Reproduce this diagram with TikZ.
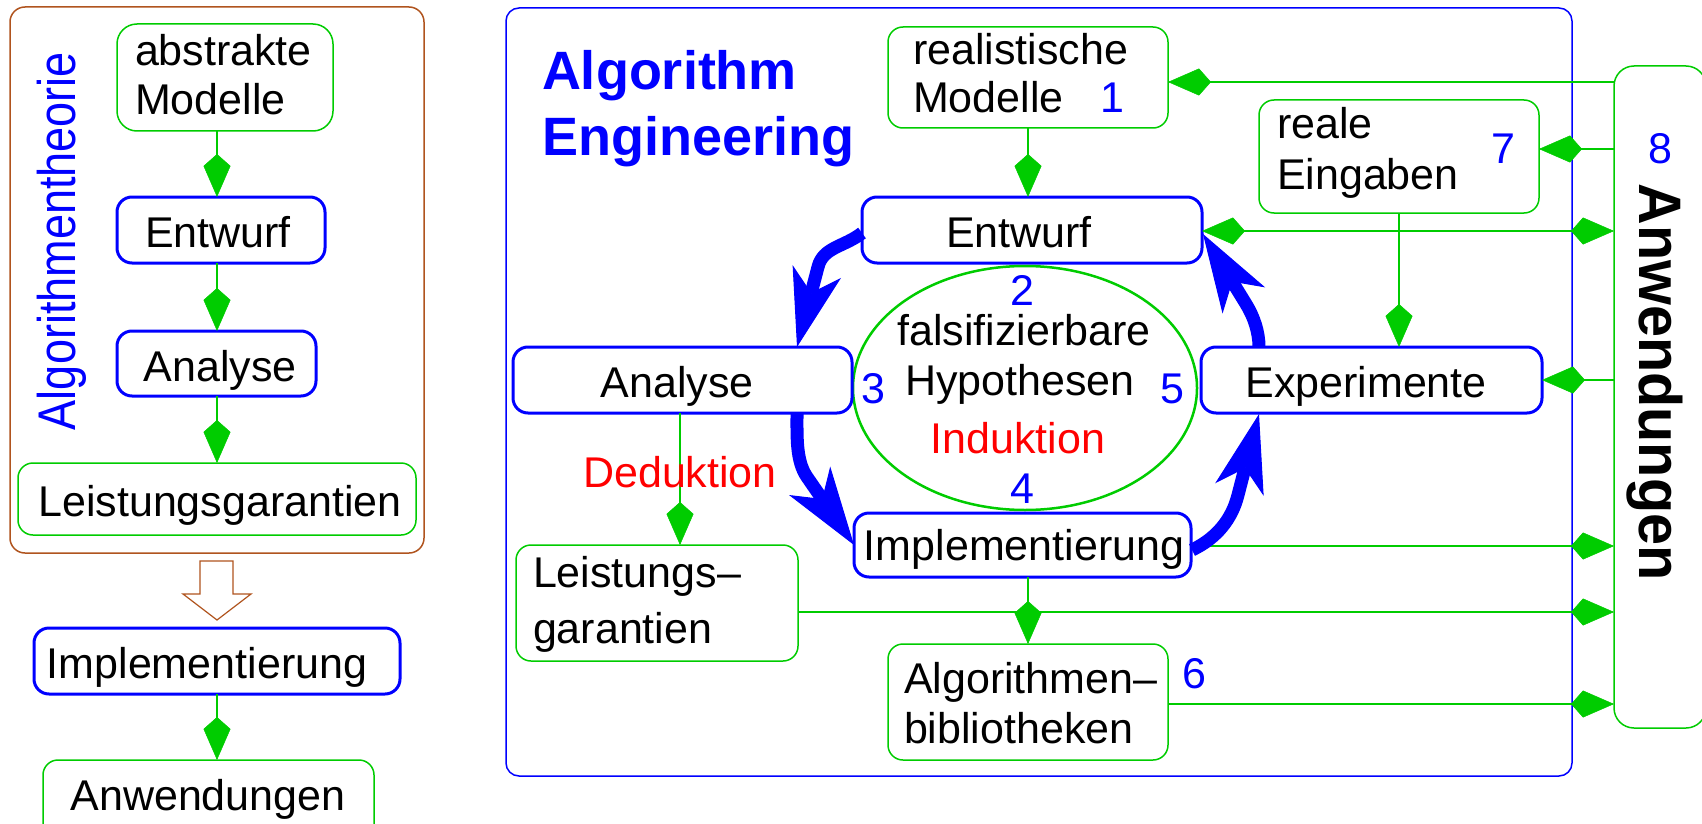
\documentclass[tikz,border=0pt]{standalone}
\usepackage{fontspec}
\setmainfont{Liberation Sans}
\usepackage{graphicx}
\usetikzlibrary{arrows.meta,shapes.geometric,calc}
\definecolor{grn}{RGB}{0,204,0}
\definecolor{bl}{RGB}{0,0,255}
\definecolor{rd}{RGB}{255,0,0}
\definecolor{brn}{RGB}{176,84,30}
\newcommand\txtfont{\fontsize{43pt}{50pt}\selectfont}

\begin{document}
\begin{tikzpicture}[x=1pt,y=-1pt,
  every node/.style={inner sep=0pt, outer sep=0pt},
  box/.style={rounded corners=15pt, anchor=north west},
  gbox/.style={box, draw=grn, line width=1.5pt},
  bbox/.style={box, draw=bl, line width=3pt},
  lbl/.style={font=\txtfont, anchor=base},
  lblw/.style={font=\txtfont, anchor=base west},
  num/.style={font=\txtfont, text=bl, anchor=base},
  diam/.tip={Kite[length=43pt,width=27pt,inset=12pt,line width=0.5pt]},
  link/.style={draw=grn, line width=2.8pt, -diam},
  link2/.style={draw=grn, line width=2.8pt, diam-diam},
  cyclearrow/.style={draw=bl, line width=13pt,
    -{Stealth[length=78pt,width=50pt,inset=22pt,line width=1pt]}},
]
\useasboundingbox (0,0) rectangle (1702,824);
\clip (0,0) rectangle (1702,824);
\fill[white] (0,0) rectangle (1702,824);

% ---------- left column: Algorithmentheorie ----------
\node[box, draw=brn, line width=1.5pt, minimum width=414pt, minimum height=546pt] (theory) at (10,7) {};
\node[gbox, rounded corners=20pt, minimum width=216pt, minimum height=107pt] (am) at (117,24) {};
\node[bbox, minimum width=208pt, minimum height=66pt] (le) at (117,197) {};
\node[bbox, minimum width=199pt, minimum height=65pt] (la) at (117,331) {};
\node[gbox, minimum width=398pt, minimum height=72pt] (lg) at (18,463) {};
\node[bbox, minimum width=366pt, minimum height=66pt] (li) at (34,628) {};
\node[gbox, minimum width=331pt, minimum height=80pt] (lw) at (43,760) {};

\coordinate (colL) at (217,0);
\draw[link] (am.south -| colL) -- (le.north -| colL);
\draw[link] (le.south -| colL) -- (la.north -| colL);
\draw[link] (la.south -| colL) -- (lg.north -| colL);
\draw[link] (li.south -| colL) -- (lw.north -| colL);

% hollow block arrow below the theory frame
\draw[draw=brn, line width=1.2pt, line join=miter] (theory.south) ++(-17,8) -- ++(33,0) -- ++(0,33)
  -- ++(18,0) -- ++(-34,26) -- ++(-34,-26) -- ++(17,0) -- cycle;

\node[font=\fontsize{53pt}{60pt}\selectfont, text=bl, rotate=90, anchor=base] (ttheo) at (75,241)
  {\scalebox{0.85}[1]{Algorithmentheorie}};
\node[lblw] (t1) at (135,66) {abstrakte};
\node[lblw] (t2) at (135,115) {Modelle};
\node[lbl] (t3) at (218,247) {Entwurf};
\node[lbl] (t4) at (220,381) {Analyse};
\node[lbl] (t5) at (220,516) {Leistungsgarantien};
\node[lbl] (t6) at (207,678) {Implementierung};
\node[lbl] (t7) at (208,810) {Anwendungen};

% ---------- right part: Algorithm Engineering ----------
\node[box, draw=bl, line width=1.5pt, rounded corners=13pt, minimum width=1066pt, minimum height=768pt] (ae) at (506,8) {};
\node[gbox, minimum width=280pt, minimum height=101pt] (rm) at (888,27) {};
\node[bbox, minimum width=340pt, minimum height=66pt] (ce) at (862,197) {};
\node[ellipse, draw=grn, line width=2.5pt, minimum width=344pt, minimum height=244pt] (hyp) at (1025,388) {};
\node[bbox, minimum width=339pt, minimum height=66pt] (ca) at (513,347) {};
\node[bbox, minimum width=337pt, minimum height=64pt] (ci) at (854,513) {};
\node[gbox, minimum width=282pt, minimum height=116pt] (clg) at (516,545) {};
\node[gbox, minimum width=280pt, minimum height=116pt] (cab) at (888,644) {};
\node[gbox, minimum width=280pt, minimum height=113pt] (cre) at (1259,100) {};
\node[bbox, minimum width=341pt, minimum height=66pt] (ex) at (1201,347) {};
\node[gbox, rounded corners=20pt, minimum width=92pt, minimum height=662pt] (aw) at (1614,66) {};

\coordinate (colM) at (1028,0);
\coordinate (colA) at (680,0);
\coordinate (colR) at (1399,0);
\coordinate (r1) at (0,82);
\coordinate (r2) at (0,149);
\coordinate (r3) at (0,231);
\coordinate (r4) at (0,380);
\coordinate (r5) at (0,546);
\coordinate (r6) at (0,612);
\coordinate (r7) at (0,704);

\draw[link] (rm.south -| colM) -- (ce.north -| colM);
\draw[link] (ci.south -| colM) -- (cab.north -| colM);
\draw[link] (ca.south -| colA) -- (clg.north -| colA);
\draw[link] (cre.south -| colR) -- (ex.north -| colR);
\draw[link] (aw.west |- r1) -- (rm.east |- r1);
\draw[link] (aw.west |- r2) -- (cre.east |- r2);
\draw[link2] (ce.east |- r3) -- (aw.west |- r3);
\draw[link] (aw.west |- r4) -- (ex.east |- r4);
\draw[link] (ci.east |- r5) -- (aw.west |- r5);
\draw[link] (clg.east |- r6) -- (aw.west |- r6);
\draw[link] (cab.east |- r7) -- (aw.west |- r7);

% the engineering cycle
\draw[cyclearrow] ($(ce.west)+(0,3)$) .. controls +(-18,14) and +(5,-20) .. ($(ca.north east)+(-34,-80)$)
  -- ($(ca.north east)+(-55,0)$);
\draw[cyclearrow] ($(ca.south east)+(-55,0)$) .. controls +(0,25) and +(-11,-16) .. ($(ci.west)+(-47,-68)$)
  -- (ci.west);
\draw[cyclearrow] ($(ci.east)+(1,5)$) .. controls +(25,-12) and +(-6,24) .. ($(ex.south west)+(37,82)$)
  -- ($(ex.south west)+(58,1)$);
\draw[cyclearrow] ($(ex.north west)+(58,0)$) .. controls +(0,-15) and +(8,13) .. ($(ce.east)+(44,74)$)
  -- ($(ce.east)+(1,4)$);

% labels
\node[font=\fontsize{54pt}{60pt}\selectfont\bfseries, text=bl, anchor=base west] (title1) at (542,90) {Algorithm};
\node[font=\fontsize{54pt}{60pt}\selectfont\bfseries, text=bl, anchor=base west] (title2) at (542,156) {Engineering};
\node[lblw] (t9) at (913,65) {realistische};
\node[lblw] (t10) at (913,113) {Modelle};
\node[num] (n1) at (1112,113) {1};
\node[lbl] (t11) at (1019,247) {Entwurf};
\node[num] (n2) at (1022,305) {2};
\node[lbl] (t12) at (1024,345) {falsifizierbare};
\node[lbl] (t13) at (1020,395) {Hypothesen};
\node[num] (n3) at (873,403) {3};
\node[num] (n5) at (1172,403) {5};
\node[lbl, text=rd] (t14) at (1018,453) {Induktion};
\node[num] (n4) at (1022,503) {4};
\node[lbl] (t15) at (677,397) {Analyse};
\node[lbl, text=rd] (t16) at (680,487) {Deduktion};
\node[lbl] (t17) at (1024,560) {Implementierung};
\node[lblw] (t18) at (533,587) {Leistungs–};
\node[lblw] (t19) at (533,643) {garantien};
\node[lblw] (t20) at (904,693) {Algorithmen–};
\node[lblw] (t21) at (904,743) {bibliotheken};
\node[num] (n6) at (1194,688) {6};
\node[lblw] (t22) at (1277,139) {reale};
\node[lblw] (t23) at (1277,189) {Eingaben};
\node[num] (n7) at (1503,164) {7};
\node[lbl] (t24) at (1366,397) {Experimente};
\node[num] (n8) at (1660,163) {8};
\node[font=\fontsize{60pt}{66pt}\selectfont\bfseries, rotate=-90, anchor=base] (tanw) at (1639,382)
  {\scalebox{0.96}[1]{Anwendungen}};
\end{tikzpicture}
\end{document}
